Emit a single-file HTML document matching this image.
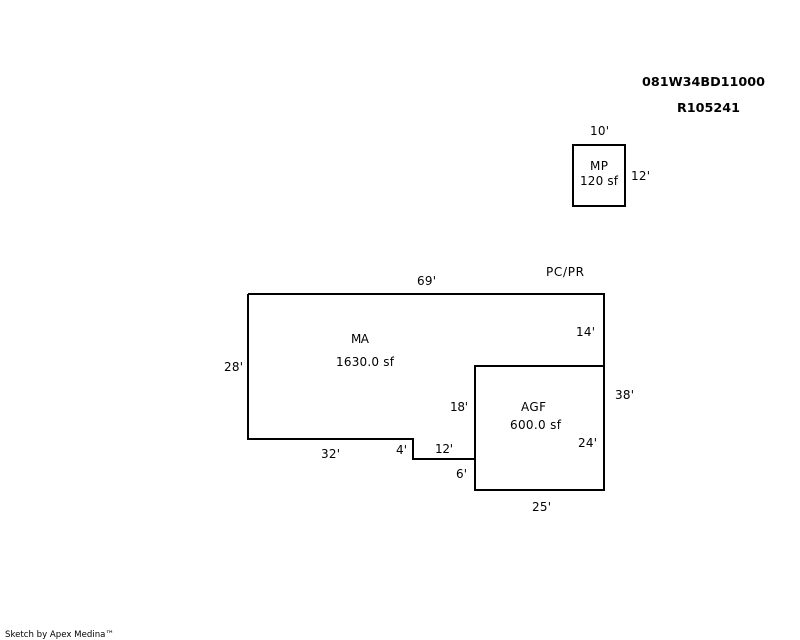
<!DOCTYPE html>
<html>
<head>
<meta charset="utf-8">
<style>
html,body{margin:0;padding:0;background:#fff;width:800px;height:640px;overflow:hidden}
svg{display:block}
text{font-family:"DejaVu Sans","Liberation Sans",sans-serif;font-size:12px;fill:#000}
.b{font-weight:bold}
.s{font-size:9px}
</style>
</head>
<body>
<svg width="800" height="640" viewBox="0 0 800 640" xmlns="http://www.w3.org/2000/svg">
<g fill="none" stroke="#000" stroke-width="2" shape-rendering="crispEdges">
<rect x="573" y="145" width="52" height="61"/>
<path d="M248 294H604V490H475V366H604M475 459H413V439H248V294"/>
</g>
<text class="b" x="642" y="86" textLength="123" lengthAdjust="spacingAndGlyphs">081W34BD11000</text>
<text class="b" x="677" y="112" textLength="63" lengthAdjust="spacingAndGlyphs">R105241</text>
<text x="590" y="135" textLength="19">10'</text>
<text x="590" y="170" textLength="18">MP</text>
<text x="580" y="185" textLength="38">120 sf</text>
<text x="631" y="180" textLength="19">12'</text>
<text x="546" y="276" textLength="38">PC/PR</text>
<text x="417" y="285" textLength="19">69'</text>
<text x="576" y="336" textLength="19">14'</text>
<text x="351" y="343" textLength="18">MA</text>
<text x="336" y="366" textLength="58">1630.0 sf</text>
<text x="224" y="371" textLength="19">28'</text>
<text x="615" y="399" textLength="19">38'</text>
<text x="450" y="411" textLength="18">18'</text>
<text x="521" y="411" textLength="25">AGF</text>
<text x="510" y="429" textLength="51">600.0 sf</text>
<text x="578" y="447" textLength="19">24'</text>
<text x="396" y="454" textLength="11">4'</text>
<text x="435" y="453" textLength="18">12'</text>
<text x="321" y="458" textLength="19">32'</text>
<text x="456" y="478" textLength="11">6'</text>
<text x="532" y="511" textLength="19">25'</text>
<text class="s" x="5" y="637" textLength="109" lengthAdjust="spacingAndGlyphs">Sketch by Apex Medina™</text>
</svg>
</body>
</html>
